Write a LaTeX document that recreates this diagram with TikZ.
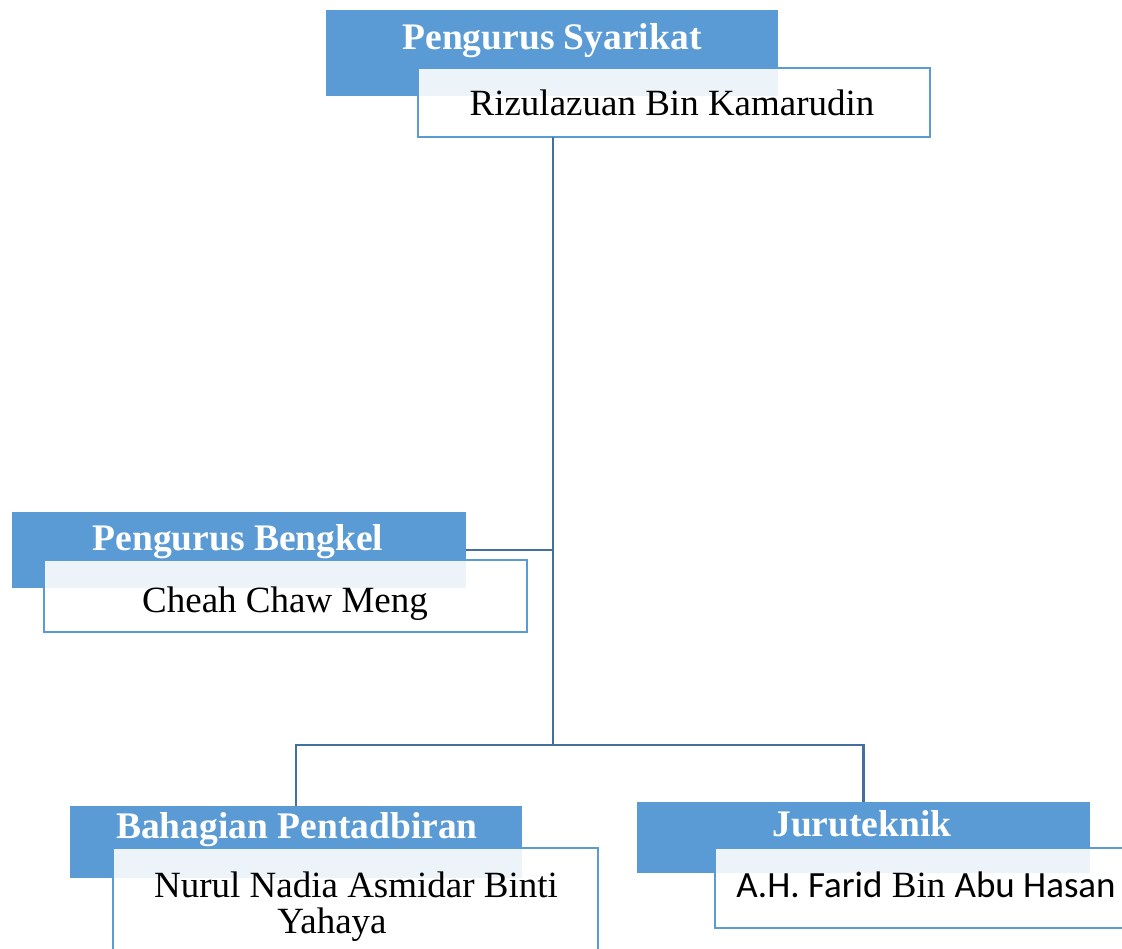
\documentclass[tikz,border=0pt]{standalone}
\usepackage{fontspec}
\setmainfont{Liberation Serif}
\newfontfamily\calibri{Carlito}
\definecolor{hdrblue}{HTML}{5B9BD5}
\definecolor{linkblue}{HTML}{41719C}
\begin{document}
\begin{tikzpicture}[x=1pt,y=-1pt,
  hdr/.style={draw=none, fill=hdrblue, inner sep=0pt, outer sep=0pt},
  namebox/.style={draw=hdrblue, line width=2.8pt, fill=white, fill opacity=0.89, inner sep=0pt, outer sep=0pt},
  hdrtext/.style={text=white, font=\fontsize{37.5}{36}\selectfont\bfseries, inner sep=0pt, anchor=base},
  nametext/.style={text=black, font=\fontsize{37}{36}\selectfont, inner sep=0pt, anchor=base, align=center},
  link/.style={draw=linkblue, line width=2.4pt}]
\useasboundingbox (0,0) rectangle (1122,949);
\clip (0,0) rectangle (1122,949);
\fill[white] (0,0) rectangle (1122,949);

\coordinate (tr) at (553,550);
\coordinate (br) at (553,745);

% boxes
\node[hdr, minimum width=452pt, minimum height=86pt] (bSy) at (552,53) {};
\node[namebox, minimum width=512pt, minimum height=69pt] (wSy) at (674,102.5) {};
\node[hdr, minimum width=454pt, minimum height=76pt] (bBe) at (239,550) {};
\node[namebox, minimum width=483pt, minimum height=72pt] (wBe) at (285.5,596) {};
\node[hdr, minimum width=452pt, minimum height=72pt] (bBa) at (296,842) {};
\node[namebox, minimum width=485pt, minimum height=112pt] (wBa) at (355.5,904) {};
\node[hdr, minimum width=453pt, minimum height=71pt] (bJu) at (863.5,837.5) {};
\node[namebox, minimum width=420pt, minimum height=80pt] (wJu) at (925,888) {};

% connectors
\draw[link] (wSy.south -| tr) -- (br);
\draw[link] (bBe.east |- tr) -- (tr);
\draw[link] (bBa.north) |- (br) -| (bJu.north);

% texts
\node[hdrtext] (tSy) at (552,50) {Pengurus Syarikat};
\node[nametext] (nSy) at (672,116) {Rizulazuan Bin Kamarudin};
\node[hdrtext] (tBe) at (238,550) {Pengurus Bengkel};
\node[nametext] (nBe) at (285,612) {Cheah Chaw Meng};
\node[hdrtext] (tBa) at (297,838) {Bahagian Pentadbiran};
\node[nametext] (nBa) at (356,933) {Nurul Nadia Asmidar Binti\\\hspace*{-48pt}Yahaya};
\node[hdrtext] (tJu) at (862,836) {Juruteknik};
\node[nametext] (nJu) at (926,897) {{\calibri A.H. Farid} Bin {\calibri Abu Hasan}};
\end{tikzpicture}
\end{document}
